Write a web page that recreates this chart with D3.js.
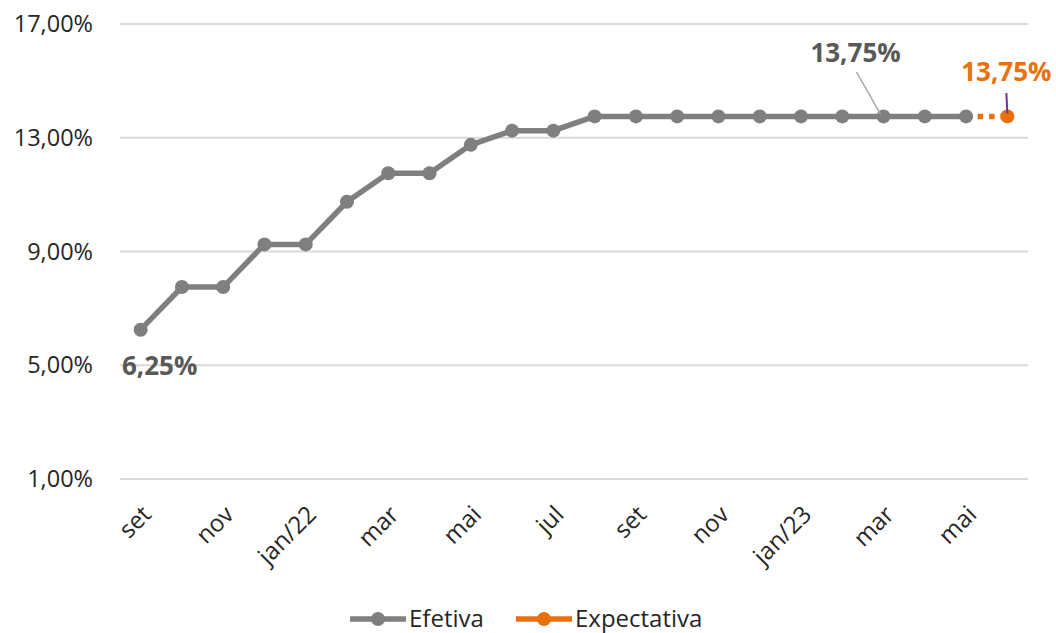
<!DOCTYPE html>
<html>
<head>
<meta charset="utf-8">
<script src="https://cdn.jsdelivr.net/npm/d3@7"></script>
<style>
  body { margin: 0; background: #fff; }
  svg { display: block; font-family: "Open Sans", "Noto Sans", sans-serif; }
</style>
</head>
<body>
<svg id="chart" width="1056" height="633"></svg>
<script>
// Selic: taxa efetiva mensal e expectativa
const months = ["set","out","nov","dez","jan/22","fev","mar","abr","mai","jun","jul","ago",
                "set2","out2","nov2","dez2","jan/23","fev2","mar2","abr2","mai2","jun2"];
const tickLabels = ["set","","nov","","jan/22","","mar","","mai","","jul","",
                    "set","","nov","","jan/23","","mar","","mai",""];
const efetiva = [6.25,7.75,7.75,9.25,9.25,10.75,11.75,11.75,12.75,13.25,13.25,13.75,
                 13.75,13.75,13.75,13.75,13.75,13.75,13.75,13.75,13.75,null];
const expectativa = [null,null,null,null,null,null,null,null,null,null,null,null,
                     null,null,null,null,null,null,null,null,13.75,13.75];
const yTicks = [1,5,9,13,17];

const svg = d3.select("#chart");
const gray = "#7f7f7f", orange = "#e8700f";
const fmt = v => v.toFixed(2).replace(".", ",") + "%";

const x = d3.scaleBand().domain(months).range([120, 1028]);
const y = d3.scaleLinear().domain([1, 17]).range([479, 24]);
const cx = m => x(m) + x.bandwidth() / 2;

// grid lines
svg.append("g").selectAll("line").data(yTicks).join("line")
  .attr("x1", 120).attr("x2", 1028)
  .attr("y1", d => y(d)).attr("y2", d => y(d))
  .attr("stroke", "#d9d9d9").attr("stroke-width", 2);

// y labels
svg.append("g").selectAll("text").data(yTicks).join("text")
  .attr("x", 93).attr("y", d => y(d) + 8)
  .attr("text-anchor", "end").attr("font-size", 23.5).attr("fill", "#262626")
  .text(fmt);

// x labels
svg.append("g").selectAll("text").data(months).join("text")
  .attr("transform", m => `translate(${cx(m) + 6},${510}) rotate(-45)`)
  .attr("text-anchor", "end").attr("font-size", 24).attr("fill", "#262626")
  .attr("dy", "0.35em")
  .text((m, i) => tickLabels[i]);

// expectativa line (dotted)
const lineE = d3.line().defined(d => d.v != null).x(d => cx(d.m)).y(d => y(d.v));
const expData = months.map((m, i) => ({ m, v: expectativa[i] }));
svg.append("path").datum(expData)
  .attr("d", lineE).attr("fill", "none")
  .attr("stroke", orange).attr("stroke-width", 5.5)
  .attr("stroke-dasharray", "5.5,6");

// efetiva line
const efData = months.map((m, i) => ({ m, v: efetiva[i] }));
svg.append("path").datum(efData)
  .attr("d", lineE).attr("fill", "none")
  .attr("stroke", gray).attr("stroke-width", 5.5).attr("stroke-linejoin", "round");

svg.append("g").selectAll("circle").data(efData.filter(d => d.v != null)).join("circle")
  .attr("cx", d => cx(d.m)).attr("cy", d => y(d.v)).attr("r", 7).attr("fill", gray);

const lastExp = expData[expData.length - 1];
svg.append("circle").attr("cx", cx(lastExp.m)).attr("cy", y(lastExp.v)).attr("r", 7).attr("fill", orange);

// data labels
const first = efData[0];
svg.append("text").attr("x", cx(first.m) + 19).attr("y", y(first.v) + 45)
  .attr("text-anchor", "middle").attr("font-size", 26).attr("font-weight", "bold")
  .attr("fill", "#595959").text(fmt(first.v));

const callout = efData[18];
svg.append("line")
  .attr("x1", cx(callout.m) - 27).attr("y1", 72)
  .attr("x2", cx(callout.m) - 3).attr("y2", y(callout.v) - 2)
  .attr("stroke", "#a6a6a6").attr("stroke-width", 1.5);
svg.append("text").attr("x", cx(callout.m) - 28).attr("y", 62)
  .attr("text-anchor", "middle").attr("font-size", 26).attr("font-weight", "bold")
  .attr("fill", "#595959").text(fmt(callout.v));

svg.append("line")
  .attr("x1", cx(lastExp.m) - 1).attr("y1", 93)
  .attr("x2", cx(lastExp.m)).attr("y2", y(lastExp.v) - 3)
  .attr("stroke", "#7030a0").attr("stroke-width", 2);
svg.append("text").attr("x", cx(lastExp.m) - 1).attr("y", 81)
  .attr("text-anchor", "middle").attr("font-size", 26).attr("font-weight", "bold")
  .attr("fill", orange).text(fmt(lastExp.v));

// legend
const legend = [
  { name: "Efetiva", color: gray, x: 350 },
  { name: "Expectativa", color: orange, x: 516 }
];
const lg = svg.append("g").selectAll("g").data(legend).join("g")
  .attr("transform", d => `translate(${d.x},619)`);
lg.append("line").attr("x1", 0).attr("x2", 56).attr("y1", 0).attr("y2", 0)
  .attr("stroke", d => d.color).attr("stroke-width", 5.5);
lg.append("circle").attr("cx", 28).attr("cy", 0).attr("r", 7).attr("fill", d => d.color);
lg.append("text").attr("x", 59).attr("y", 8).attr("font-size", 24).attr("fill", "#262626")
  .text(d => d.name);
</script>
</body>
</html>
